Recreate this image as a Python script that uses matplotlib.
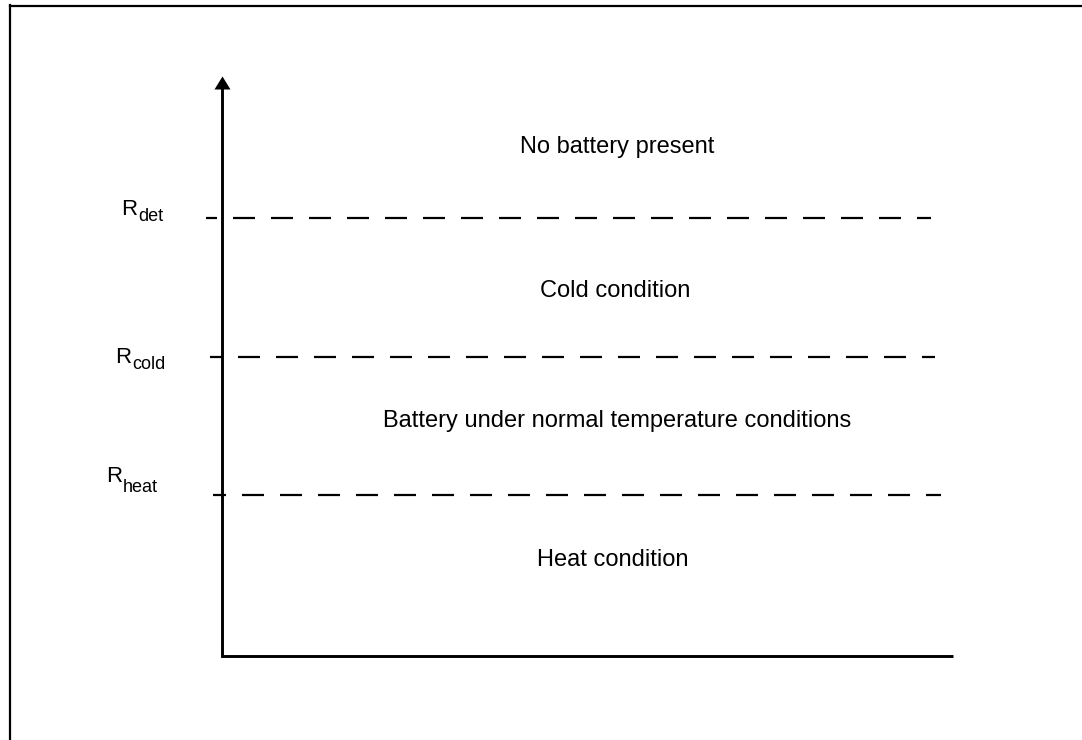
import matplotlib
matplotlib.use("Agg")
import matplotlib.pyplot as plt
from matplotlib.lines import Line2D
from matplotlib.path import Path

plt.rcParams['font.family'] = ['Liberation Sans', 'DejaVu Sans']
plt.rcParams['lines.scale_dashes'] = False

# ==============================
# Data (schematic units: x 0..100 along the axis, y 0..100 up the axis)
# ==============================
threshold_names = ['det', 'cold', 'heat']
threshold_levels = [75.5, 51.6, 27.8]          # dashed line heights
threshold_x_start = [-2.2, -1.6, -1.2]
threshold_x_end = [97.0, 97.5, 98.4]
threshold_dash_offset = [11, 10, 9]            # px, phase of the dash pattern
label_x = [-13.8, -14.6, -15.9]
label_y = [76.0, 50.5, 30.0]
sub_drop = [6, 6, 10]                          # px, subscript drop under baseline

region_labels = ['No battery present', 'Cold condition',
                 'Battery under normal temperature conditions', 'Heat condition']
region_x = [54.0, 53.8, 54.0, 53.5]
region_y = [86.7, 61.9, 39.5, 15.5]

PX = 72.0 / 100  # points per pixel at dpi 100

fig = plt.figure(figsize=(10.82, 7.40), dpi=100)
fig.patch.set_facecolor('white')

# Outer frame (only top and left edges are visible in the crop)
fig.add_artist(Line2D([10 / 1082, 10 / 1082], [0, 1 - 5 / 740],
                      transform=fig.transFigure, color='black', lw=1.6,
                      solid_capstyle='projecting'))
fig.add_artist(Line2D([10 / 1082, 1], [1 - 6 / 740, 1 - 6 / 740],
                      transform=fig.transFigure, color='black', lw=1.6))

ax = fig.add_axes([222 / 1082, (740 - 656) / 740, 731 / 1082, 580 / 740])
ax.set_xlim(0, 100)
ax.set_ylim(0, 100)
ax.axis('off')

# Axes: L-shape + arrow head on y axis
ax.plot([0, 0, 100], [98, 0, 0], color='black', lw=2.1, clip_on=False,
        solid_joinstyle='miter', solid_capstyle='butt')
head = Path([(-8, -13), (8, -13), (0, 0), (-8, -13)],
            [Path.MOVETO, Path.LINETO, Path.LINETO, Path.CLOSEPOLY])
ax.plot([0], [100], marker=head, markersize=26 * PX, color='black',
        markeredgewidth=0, clip_on=False)

# Threshold dashed lines and labels
for name, lvl, x0, x1, off, lx, ly, drop in zip(
        threshold_names, threshold_levels, threshold_x_start, threshold_x_end,
        threshold_dash_offset, label_x, label_y, sub_drop):
    ax.plot([x0, x1], [lvl, lvl], color='black', lw=1.6, clip_on=False,
            linestyle=(off * PX, (22 * PX, 16 * PX)), dash_capstyle='butt')
    ax.text(lx, ly, 'R', fontsize=16, ha='left', va='baseline')
    ax.annotate(name, xy=(lx, ly), xytext=(17 * PX, -drop * PX),
                textcoords='offset points', fontsize=13,
                ha='left', va='baseline', annotation_clip=False)

# Region descriptions
for txt, x, y in zip(region_labels, region_x, region_y):
    ax.text(x, y, txt, fontsize=17, ha='center', va='baseline')

fig.savefig('out.png', dpi=100, facecolor='white')
